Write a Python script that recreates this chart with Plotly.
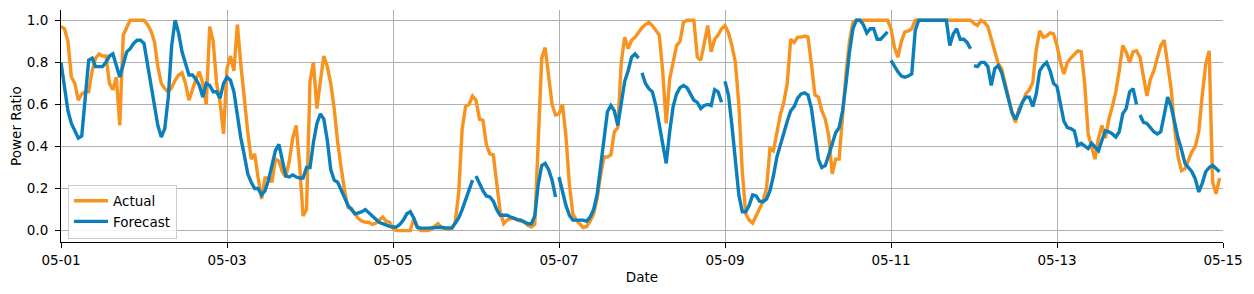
import pandas as pd
import plotly.graph_objects as go

START = "2024-05-01"
END = "2024-05-15"
N_HOURS = 336

ACTUAL = [
    0.97, 0.96, 0.90, 0.73, 0.70, 0.62, 0.65, 0.66, 0.66, 0.76, 0.82, 0.84,
    0.83, 0.83, 0.70, 0.67, 0.73, 0.50, 0.93, 0.97, 1.00, 1.00, 1.00, 1.00,
    1.00, 0.98, 0.95, 0.90, 0.78, 0.70, 0.675, 0.66, 0.68, 0.715, 0.74, 0.75,
    0.70, 0.62, 0.67, 0.72, 0.755, 0.70, 0.60, 0.97, 0.90, 0.70, 0.61, 0.46,
    0.77, 0.83, 0.76, 0.98, 0.79, 0.61, 0.47, 0.34, 0.365, 0.25, 0.15, 0.25,
    0.25, 0.23, 0.34, 0.33, 0.28, 0.255, 0.33, 0.44, 0.50, 0.31, 0.07, 0.10,
    0.71, 0.80, 0.58, 0.71, 0.83, 0.78, 0.70, 0.58, 0.42, 0.30, 0.19, 0.11,
    0.105, 0.08, 0.057, 0.045, 0.04, 0.04, 0.03, 0.035, 0.05, 0.065, 0.045, 0.04,
    0.01, 0.0, 0.0, 0.0, 0.0, 0.0, 0.057, 0.017, 0.0, 0.0, 0.0, 0.006,
    0.02, 0.033, 0.015, 0.01, 0.006, 0.01, 0.04, 0.18, 0.485, 0.59, 0.60, 0.64,
    0.62, 0.53, 0.525, 0.41, 0.365, 0.36, 0.21, 0.09, 0.033, 0.05, 0.057, 0.06,
    0.05, 0.045, 0.04, 0.025, 0.017, 0.03, 0.45, 0.82, 0.87, 0.72, 0.60, 0.55,
    0.555, 0.60, 0.45, 0.22, 0.08, 0.05, 0.03, 0.015, 0.02, 0.045, 0.08, 0.15,
    0.26, 0.35, 0.35, 0.36, 0.47, 0.49, 0.80, 0.92, 0.865, 0.905, 0.92, 0.945,
    0.965, 0.98, 0.99, 0.975, 0.95, 0.93, 0.755, 0.51, 0.72, 0.80, 0.88, 0.90,
    0.99, 1.00, 1.00, 1.00, 0.825, 0.81, 0.89, 0.975, 0.85, 0.91, 0.93, 0.96,
    0.975, 0.94, 0.88, 0.80, 0.60, 0.28, 0.08, 0.05, 0.035, 0.07, 0.11, 0.14,
    0.20, 0.39, 0.38, 0.47, 0.55, 0.61, 0.70, 0.91, 0.895, 0.92, 0.92, 0.925,
    0.92, 0.79, 0.645, 0.635, 0.57, 0.53, 0.45, 0.27, 0.34, 0.34, 0.55, 0.75,
    0.90, 0.99, 1.00, 1.00, 1.00, 1.00, 1.00, 1.00, 1.00, 1.00, 1.00, 1.00,
    0.96, 0.87, 0.825, 0.90, 0.945, 0.95, 0.96, 1.00, 1.00, 1.00, 1.00, 1.00,
    1.00, 1.00, 1.00, 1.00, 1.00, 1.00, 1.00, 1.00, 1.00, 1.00, 1.00, 1.00,
    0.985, 0.975, 1.00, 0.99, 0.97, 0.91, 0.85, 0.795, 0.77, 0.70, 0.63, 0.56,
    0.515, 0.58, 0.61, 0.65, 0.67, 0.705, 0.86, 0.95, 0.92, 0.925, 0.94, 0.935,
    0.88, 0.80, 0.745, 0.80, 0.82, 0.84, 0.855, 0.85, 0.70, 0.46, 0.40, 0.34,
    0.44, 0.50, 0.44, 0.53, 0.59, 0.66, 0.76, 0.88, 0.85, 0.80, 0.85, 0.855,
    0.825, 0.73, 0.64, 0.72, 0.76, 0.82, 0.88, 0.905, 0.785, 0.675, 0.49, 0.35,
    0.285, 0.295, 0.335, 0.375, 0.40, 0.47, 0.645, 0.79, 0.855, 0.23, 0.175, 0.25,
]

FORECAST = [
    0.80, 0.67, 0.57, 0.51, 0.47, 0.44, 0.45, 0.64, 0.81, 0.82, 0.78, 0.78,
    0.78, 0.80, 0.83, 0.84, 0.78, 0.73, 0.79, 0.85, 0.865, 0.89, 0.905, 0.905,
    0.89, 0.79, 0.675, 0.58, 0.50, 0.445, 0.485, 0.63, 0.88, 1.00, 0.94, 0.85,
    0.79, 0.74, 0.74, 0.72, 0.69, 0.635, 0.70, 0.69, 0.66, 0.66, 0.63, 0.70,
    0.73, 0.715, 0.66, 0.55, 0.44, 0.36, 0.27, 0.23, 0.20, 0.20, 0.17, 0.19,
    0.24, 0.31, 0.38, 0.41, 0.34, 0.26, 0.255, 0.265, 0.255, 0.25, 0.25, 0.30,
    0.30, 0.42, 0.51, 0.555, 0.53, 0.43, 0.29, 0.24, 0.23, 0.19, 0.15, 0.12,
    0.10, 0.08, 0.085, 0.09, 0.10, 0.085, 0.07, 0.05, 0.04, 0.033, 0.025, 0.02,
    0.017, 0.017, 0.03, 0.05, 0.08, 0.09, 0.06, 0.017, 0.012, 0.01, 0.012, 0.013,
    0.015, 0.017, 0.016, 0.014, 0.014, 0.013, 0.035, 0.06, 0.10, 0.15, 0.19, 0.24,
    0.26, 0.225, 0.19, 0.165, 0.16, 0.14, 0.10, 0.073, 0.073, 0.073, 0.065, 0.057,
    0.052, 0.05, 0.04, 0.033, 0.033, 0.07, 0.22, 0.31, 0.32, 0.29, 0.24, 0.16,
    0.255, 0.19, 0.12, 0.073, 0.05, 0.05, 0.05, 0.05, 0.045, 0.065, 0.10, 0.17,
    0.30, 0.45, 0.565, 0.595, 0.57, 0.50, 0.60, 0.71, 0.76, 0.825, 0.84, 0.82,
    0.75, 0.70, 0.675, 0.66, 0.595, 0.50, 0.405, 0.32, 0.47, 0.59, 0.65, 0.68,
    0.69, 0.68, 0.65, 0.62, 0.61, 0.58, 0.595, 0.60, 0.595, 0.67, 0.66, 0.61,
    0.71, 0.645, 0.50, 0.34, 0.17, 0.09, 0.09, 0.12, 0.17, 0.165, 0.14, 0.138,
    0.15, 0.19, 0.26, 0.35, 0.41, 0.46, 0.52, 0.57, 0.59, 0.63, 0.65, 0.655,
    0.645, 0.58, 0.455, 0.34, 0.30, 0.31, 0.36, 0.41, 0.465, 0.49, 0.57, 0.70,
    0.85, 0.96, 1.00, 1.00, 0.98, 0.94, 0.96, 0.96, 0.91, 0.91, 0.925, 0.945,
    0.81, 0.78, 0.755, 0.735, 0.73, 0.735, 0.745, 0.95, 1.00, 1.00, 1.00, 1.00,
    1.00, 1.00, 1.00, 1.00, 1.00, 0.88, 0.935, 0.96, 0.91, 0.91, 0.895, 0.865,
    0.785, 0.78, 0.80, 0.80, 0.78, 0.69, 0.77, 0.785, 0.75, 0.685, 0.62, 0.56,
    0.53, 0.565, 0.61, 0.635, 0.635, 0.59, 0.65, 0.76, 0.785, 0.80, 0.76, 0.70,
    0.685, 0.60, 0.52, 0.49, 0.485, 0.475, 0.405, 0.415, 0.40, 0.39, 0.415, 0.40,
    0.38, 0.43, 0.475, 0.47, 0.46, 0.445, 0.47, 0.555, 0.58, 0.66, 0.675, 0.60,
    0.55, 0.515, 0.51, 0.49, 0.47, 0.46, 0.47, 0.55, 0.635, 0.59, 0.51, 0.44,
    0.385, 0.32, 0.30, 0.28, 0.245, 0.184, 0.225, 0.28, 0.30, 0.31, 0.295, 0.28,
]

# days at which a new forecast run starts (line is broken there)
FORECAST_BREAKS = ["2024-05-06", "2024-05-07", "2024-05-08", "2024-05-09",
                   "2024-05-11", "2024-05-12", "2024-05-14"]

Y_TICKS = [0.0, 0.2, 0.4, 0.6, 0.8, 1.0]

ORANGE = "#f7931e"
BLUE = "#0a7fbb"

times = pd.date_range(START, periods=N_HOURS, freq="h")
breaks = set(pd.to_datetime(FORECAST_BREAKS))

fx, fy = [], []
for t, v in zip(times, FORECAST):
    if t in breaks:
        fx.append(t - pd.Timedelta(minutes=30))
        fy.append(None)
    fx.append(t)
    fy.append(v)

fig = go.Figure()
fig.add_trace(go.Scatter(x=times, y=ACTUAL, mode="lines", name="Actual",
                         line=dict(color=ORANGE, width=3.4)))
fig.add_trace(go.Scatter(x=fx, y=fy, mode="lines", name="Forecast",
                         connectgaps=False,
                         line=dict(color=BLUE, width=3.4)))

xticks = pd.date_range(START, END, freq="2D")
grid = "#b0b0b0"
# the page body adds an 8px offset, so the figure is 8px smaller and shifted
fig.update_layout(
    width=1246, height=286,
    margin=dict(l=53, r=31, t=2, b=52),
    paper_bgcolor="white", plot_bgcolor="white",
    font=dict(family="DejaVu Sans", size=13.5, color="black"),
    showlegend=True,
    legend=dict(x=0.006, y=0.015, xanchor="left", yanchor="bottom",
                bgcolor="rgba(255,255,255,0.85)", bordercolor="#cccccc",
                borderwidth=1, font=dict(size=13.5), tracegroupgap=0,
                itemwidth=34),
    xaxis=dict(
        range=[pd.Timestamp(START), pd.Timestamp(END)],
        tickvals=list(xticks), ticktext=[d.strftime("%m-%d") for d in xticks],
        showgrid=True, gridcolor=grid, gridwidth=1,
        showline=True, linecolor="black", linewidth=1,
        ticks="outside", ticklen=5, tickcolor="black",
        ticklabelstandoff=1,
        zeroline=False,
        title=dict(text="Date", font=dict(size=13.5), standoff=5),
    ),
    yaxis=dict(
        range=[-0.054, 1.049],
        tickvals=Y_TICKS, ticktext=[f"{v:.1f}" for v in Y_TICKS],
        showgrid=True, gridcolor=grid, gridwidth=1,
        showline=True, linecolor="black", linewidth=1,
        ticks="outside", ticklen=5, tickcolor="black",
        ticklabelstandoff=4,
        zeroline=False,
        title=dict(text="Power Ratio", font=dict(size=13.5), standoff=8),
    ),
)

fig.write_html("out.html")
